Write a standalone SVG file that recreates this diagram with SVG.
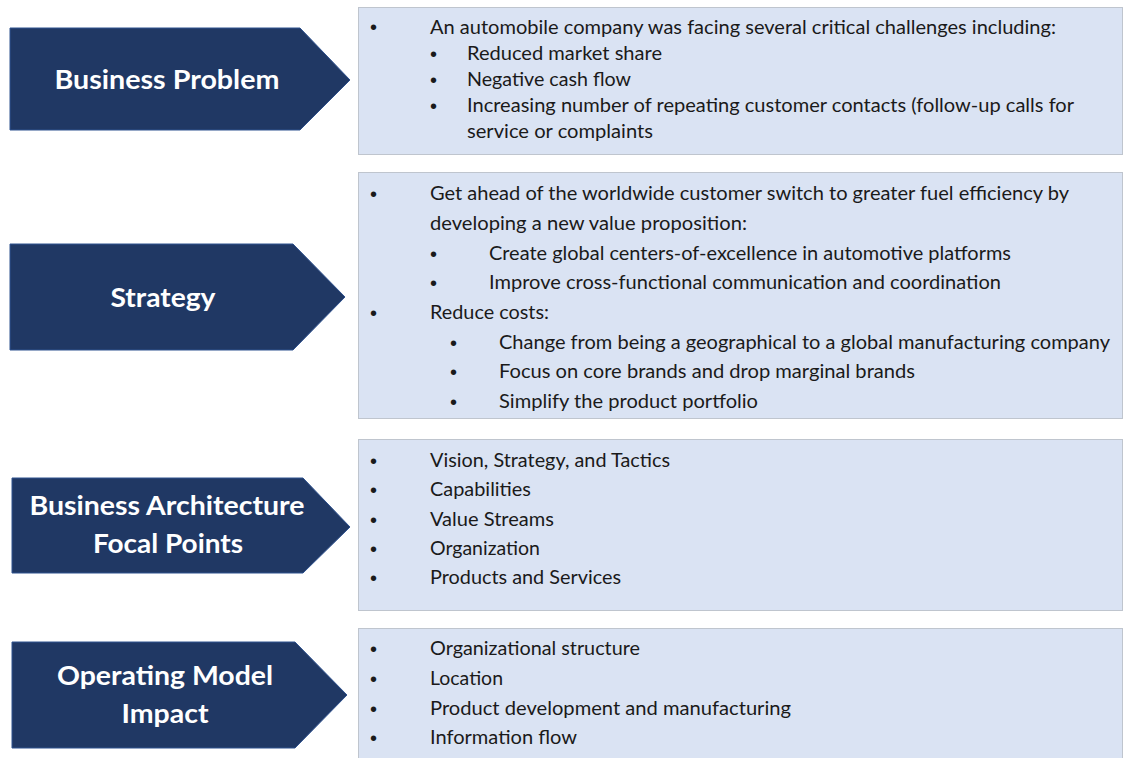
<svg xmlns="http://www.w3.org/2000/svg" width="1123" height="758" viewBox="0 0 1123 758">
<style>
.arrow{fill:#203864;stroke:#2F528F;stroke-width:1}
.box{fill:#DAE3F3;stroke:#BFC5CE;stroke-width:1}
.t{font-family:Lato,"Liberation Sans",sans-serif;font-size:18.5px;fill:#1A1A1A}
.b{font-family:"Liberation Sans",sans-serif;font-size:20px;fill:#1A1A1A}
.h{font-family:Lato,"Liberation Sans",sans-serif;font-size:27px;font-weight:bold;fill:#FFFFFF;text-anchor:middle}
</style>
<rect width="1123" height="758" fill="#FFFFFF"/>
<g id="connectors"/>
<g id="node-business-problem">
<polygon class="arrow" points="10,28 300,28 350,80 300,130 10,130"/>
<text class="h" x="167" y="89" textLength="225" lengthAdjust="spacingAndGlyphs">Business Problem</text>
</g>
<g id="box-business-problem">
<rect class="box" x="358.5" y="7.5" width="764" height="147"/>
<text class="b" x="370" y="34">•</text>
<text class="t" x="430" y="34" textLength="626" lengthAdjust="spacingAndGlyphs">An automobile company was facing several critical challenges including:</text>
<text class="b" x="430" y="61">•</text>
<text class="t" x="467" y="60" textLength="195" lengthAdjust="spacingAndGlyphs">Reduced market share</text>
<text class="b" x="430" y="87">•</text>
<text class="t" x="467" y="86" textLength="164" lengthAdjust="spacingAndGlyphs">Negative cash flow</text>
<text class="b" x="430" y="113">•</text>
<text class="t" x="467" y="112" textLength="607" lengthAdjust="spacingAndGlyphs">Increasing number of repeating customer contacts (follow-up calls for</text>
<text class="t" x="467" y="138" textLength="186" lengthAdjust="spacingAndGlyphs">service or complaints</text>
</g>
<g id="node-strategy">
<polygon class="arrow" points="10,244 293,244 345,297 293,350 10,350"/>
<text class="h" x="163" y="307" textLength="105" lengthAdjust="spacingAndGlyphs">Strategy</text>
</g>
<g id="box-strategy">
<rect class="box" x="358.5" y="172.5" width="764" height="246"/>
<text class="b" x="370" y="201">•</text>
<text class="t" x="430" y="200" textLength="639" lengthAdjust="spacingAndGlyphs">Get ahead of the worldwide customer switch to greater fuel efficiency by</text>
<text class="t" x="430" y="230" textLength="317" lengthAdjust="spacingAndGlyphs">developing a new value proposition:</text>
<text class="b" x="430" y="261">•</text>
<text class="t" x="489" y="260" textLength="522" lengthAdjust="spacingAndGlyphs">Create global centers-of-excellence in automotive platforms</text>
<text class="b" x="430" y="290">•</text>
<text class="t" x="489" y="289" textLength="512" lengthAdjust="spacingAndGlyphs">Improve cross-functional communication and coordination</text>
<text class="b" x="370" y="320">•</text>
<text class="t" x="430" y="319" textLength="119" lengthAdjust="spacingAndGlyphs">Reduce costs:</text>
<text class="b" x="450" y="350">•</text>
<text class="t" x="499" y="349" textLength="611" lengthAdjust="spacingAndGlyphs">Change from being a geographical to a global manufacturing company</text>
<text class="b" x="450" y="379">•</text>
<text class="t" x="499" y="378" textLength="416" lengthAdjust="spacingAndGlyphs">Focus on core brands and drop marginal brands</text>
<text class="b" x="450" y="409">•</text>
<text class="t" x="499" y="408" textLength="259" lengthAdjust="spacingAndGlyphs">Simplify the product portfolio</text>
</g>
<g id="node-business-architecture">
<polygon class="arrow" points="12,478 303,478 350,527 303,573 12,573"/>
<text class="h" x="167" y="515" textLength="275" lengthAdjust="spacingAndGlyphs">Business Architecture</text>
<text class="h" x="168" y="553" textLength="150" lengthAdjust="spacingAndGlyphs">Focal Points</text>
</g>
<g id="box-business-architecture">
<rect class="box" x="358.5" y="439.5" width="764" height="171"/>
<text class="b" x="370" y="468">•</text>
<text class="t" x="430" y="467" textLength="240" lengthAdjust="spacingAndGlyphs">Vision, Strategy, and Tactics</text>
<text class="b" x="370" y="497">•</text>
<text class="t" x="430" y="496" textLength="101" lengthAdjust="spacingAndGlyphs">Capabilities</text>
<text class="b" x="370" y="527">•</text>
<text class="t" x="430" y="526" textLength="124" lengthAdjust="spacingAndGlyphs">Value Streams</text>
<text class="b" x="370" y="556">•</text>
<text class="t" x="430" y="555" textLength="110" lengthAdjust="spacingAndGlyphs">Organization</text>
<text class="b" x="370" y="585">•</text>
<text class="t" x="430" y="584" textLength="191" lengthAdjust="spacingAndGlyphs">Products and Services</text>
</g>
<g id="node-operating-model">
<polygon class="arrow" points="12,642 295,642 347,695 295,748 12,748"/>
<text class="h" x="165" y="685" textLength="216" lengthAdjust="spacingAndGlyphs">Operating Model</text>
<text class="h" x="165" y="723" textLength="87" lengthAdjust="spacingAndGlyphs">Impact</text>
</g>
<g id="box-operating-model">
<rect class="box" x="358.5" y="628.5" width="764" height="140"/>
<text class="b" x="370" y="656">•</text>
<text class="t" x="430" y="655" textLength="210" lengthAdjust="spacingAndGlyphs">Organizational structure</text>
<text class="b" x="370" y="686">•</text>
<text class="t" x="430" y="685" textLength="73" lengthAdjust="spacingAndGlyphs">Location</text>
<text class="b" x="370" y="716">•</text>
<text class="t" x="430" y="715" textLength="361" lengthAdjust="spacingAndGlyphs">Product development and manufacturing</text>
<text class="b" x="370" y="745">•</text>
<text class="t" x="430" y="744" textLength="147" lengthAdjust="spacingAndGlyphs">Information flow</text>
</g>
</svg>
